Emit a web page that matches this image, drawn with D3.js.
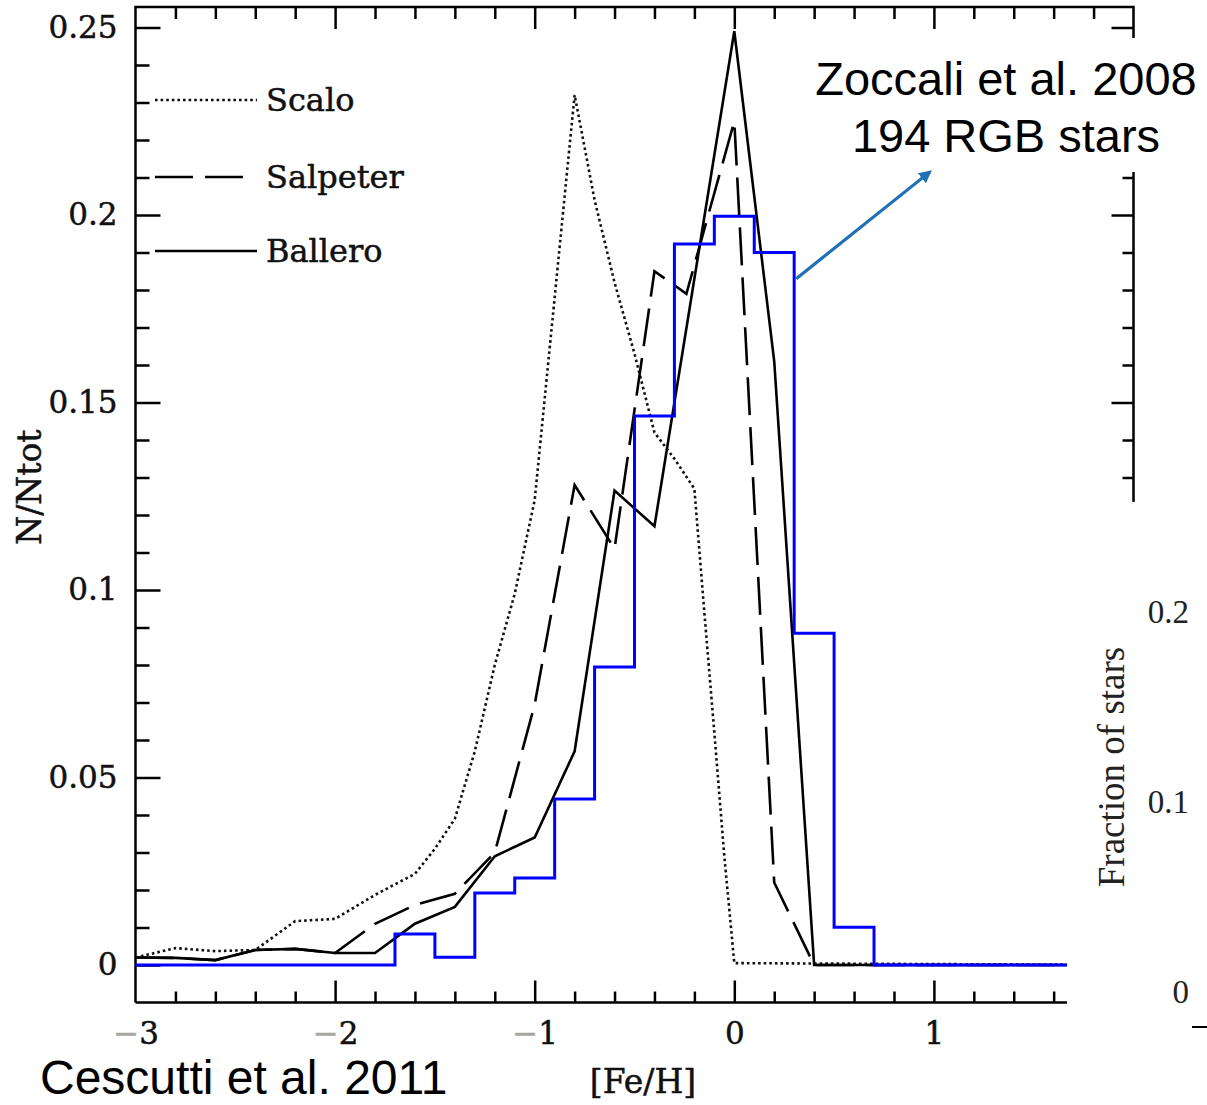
<!DOCTYPE html>
<html><head><meta charset="utf-8">
<script src="https://cdn.jsdelivr.net/npm/d3@7"></script>
<style>html,body{margin:0;padding:0;background:#fff;} svg{display:block;}</style>
</head><body>
<svg id="chart" width="1207" height="1105"></svg>
<script>
// ---------------- data ----------------
const scaloFeH = [-3.0, -2.8, -2.6, -2.4, -2.2, -2.0, -1.8, -1.6, -1.5, -1.4, -1.3, -1.2, -1.1, -1.0, -0.9, -0.8, -0.7, -0.6, -0.5, -0.4, -0.3, -0.2, -0.15, -0.1, -0.05, 0.0, 2.0];
const scaloVal = [0.002, 0.0045, 0.0037, 0.0040, 0.0117, 0.0123, 0.0187, 0.0243, 0.031, 0.039, 0.057, 0.080, 0.099, 0.124, 0.178, 0.232, 0.204, 0.182, 0.163, 0.142, 0.135, 0.127, 0.094, 0.062, 0.029, 0.0005, 0.0];

const salpeterFeH = [-3.0, -2.8, -2.6, -2.4, -2.2, -2.0, -1.8, -1.6, -1.4, -1.2, -1.0, -0.8, -0.6, -0.4, -0.24, 0.0, 0.2, 0.4, 2.0];
const salpeterVal = [0.002, 0.0019, 0.0013, 0.004, 0.0043, 0.0032, 0.011, 0.016, 0.019, 0.030, 0.0695, 0.128, 0.111, 0.185, 0.179, 0.225, 0.022, 0.0, 0.0];

const balleroFeH = [-3.0, -2.8, -2.6, -2.4, -2.2, -2.0, -1.8, -1.6, -1.4, -1.2, -1.0, -0.8, -0.6, -0.4, 0.0, 0.2, 0.4, 2.0];
const balleroVal = [0.002, 0.0019, 0.0013, 0.004, 0.0043, 0.0032, 0.0032, 0.011, 0.0155, 0.029, 0.034, 0.057, 0.1265, 0.117, 0.249, 0.161, 0.0, 0.0];

// Zoccali et al. 2008 histogram (bin edges and heights, plotted on the N/Ntot scale)
const zoccaliEdges = [-3.0, -1.7, -1.5, -1.3, -1.1, -0.9, -0.7, -0.5, -0.3, -0.1, 0.1, 0.3, 0.5, 0.7, 2.0];
const zoccaliHeights = [0, 0.0083, 0.0021, 0.0192, 0.0232, 0.0443, 0.0795, 0.1464, 0.1923, 0.1997, 0.190, 0.0885, 0.0101, 0];

const xTickValues = [-3, -2, -1, 0, 1];
const yTickValues = [0, 0.05, 0.1, 0.15, 0.2, 0.25];
const yTickLabels = ["0", "0.05", "0.1", "0.15", "0.2", "0.25"];
const fracTickValues = [0, 0.1, 0.2];
const fracTickLabels = ["0", "0.1", "0.2"];

const legendNames = ["Scalo", "Salpeter", "Ballero"];
const annotationLines = ["Zoccali et al. 2008", "194 RGB stars"];
const arrowFrom = [0.31, 0.183];
const arrowTo = [0.98, 0.2115];

// ---------------- layout ----------------
const svg = d3.select("#chart");
svg.append("rect").attr("width", 1207).attr("height", 1105).attr("fill", "#fff");

const x = d3.scaleLinear().domain([-3, 2]).range([135.5, 1133.5]);
const y = d3.scaleLinear().domain([0, 0.25]).range([965, 27.5]);
const yTop = 7, yBot = 1002.5;

const serif = "'DejaVu Serif', serif";
const AX = 2.5;
const boldish = sel => sel.attr("stroke", "#111").attr("stroke-width", 0.5);

function styleAxis(g) {
  g.select(".domain").remove();
  g.selectAll(".tick line").attr("stroke", "#000").attr("stroke-width", AX);
}

const xMinor = d3.range(-30, 21, 2).map(d => d / 10).filter(d => !xTickValues.includes(d) && d !== 2);
const yMinor = d3.range(0, 26, 1).map(d => d / 100).filter(d => !yTickValues.some(v => Math.abs(v - d) < 1e-9));

// left axis
svg.append("g").attr("transform", `translate(${x(-3)},0)`)
  .call(d3.axisLeft(y).tickValues(yMinor).tickSize(-14).tickFormat(""))
  .call(styleAxis);
svg.append("g").attr("transform", `translate(${x(-3)},0)`)
  .call(d3.axisLeft(y).tickValues(yTickValues).tickSize(-25).tickPadding(18)
    .tickFormat((d, i) => yTickLabels[i]))
  .call(styleAxis)
  .call(g => g.selectAll("text").attr("font-family", serif).attr("font-size", 31).attr("fill", "#111").call(boldish));

// right axis (mirror)
svg.append("g").attr("transform", `translate(${x(2)},0)`)
  .call(d3.axisRight(y).tickValues(yMinor).tickSize(-11).tickFormat(""))
  .call(styleAxis);
svg.append("g").attr("transform", `translate(${x(2)},0)`)
  .call(d3.axisRight(y).tickValues(yTickValues).tickSize(-22).tickFormat(""))
  .call(styleAxis);

// top axis
svg.append("g").attr("transform", `translate(0,${yTop})`)
  .call(d3.axisTop(x).tickValues(xMinor).tickSize(-12).tickFormat(""))
  .call(styleAxis);
svg.append("g").attr("transform", `translate(0,${yTop})`)
  .call(d3.axisTop(x).tickValues(xTickValues.filter(d => d > -3)).tickSize(-22).tickFormat(""))
  .call(styleAxis);

// bottom axis
svg.append("g").attr("transform", `translate(0,${yBot})`)
  .call(d3.axisBottom(x).tickValues(xMinor).tickSize(-11).tickFormat(""))
  .call(styleAxis);
const bx = svg.append("g").attr("transform", `translate(0,${yBot})`)
  .call(d3.axisBottom(x).tickValues(xTickValues).tickSize(-22).tickPadding(19))
  .call(styleAxis);
bx.selectAll(".tick").filter(d => d === -3).select("line").remove();
bx.selectAll("text").attr("font-family", serif).attr("font-size", 31).attr("fill", "#111")
  .each(function(d) {
    const t = d3.select(this);
    t.text(null);
    if (d < 0) t.append("tspan").attr("fill", "#a8a8a0").attr("stroke", "#a8a8a0").attr("stroke-width", 0.5).text("\u2212");
    t.append("tspan").attr("stroke", "#111").attr("stroke-width", 0.5).text(Math.abs(d));
  });

// frame
const frame = svg.append("g").attr("stroke", "#000").attr("stroke-width", AX).attr("fill", "none");
frame.append("path").attr("d", `M${x(-3)},${yBot}V${yTop}H${x(2)}V${yBot}`);
frame.append("path").attr("d", `M${x(-3)},${yBot}H${x(2)}`);

// axis titles
svg.append("text").attr("transform", `translate(41,487) rotate(-90)`)
  .attr("text-anchor", "middle").attr("font-family", serif).attr("font-size", 33).attr("fill", "#111")
  .call(boldish).text("N/Ntot");
svg.append("text").attr("x", 643).attr("y", 1093)
  .attr("text-anchor", "middle").attr("font-family", serif).attr("font-size", 33).attr("fill", "#111")
  .call(boldish).text("[Fe/H]");

// ---------------- curves ----------------
const line = d3.line().x(d => x(d[0])).y(d => y(d[1]));
const zip = (a, b) => a.map((v, i) => [v, b[i]]);

const series = [
  { name: "Scalo", pts: zip(scaloFeH, scaloVal), dash: "2.6,3", color: "#111", w: 2.6 },
  { name: "Salpeter", pts: zip(salpeterFeH, salpeterVal), dash: "38,12", color: "#000", w: 2.6 },
  { name: "Ballero", pts: zip(balleroFeH, balleroVal), dash: null, color: "#000", w: 2.6 }
];

series.forEach(s => {
  svg.append("path").attr("d", line(s.pts)).attr("fill", "none")
    .attr("stroke", s.color).attr("stroke-width", s.w)
    .attr("stroke-dasharray", s.dash).attr("stroke-linejoin", "miter");
});

// histogram (step)
const histPts = zoccaliEdges.map((e, i) => [e, i < zoccaliHeights.length ? zoccaliHeights[i] : zoccaliHeights[zoccaliHeights.length - 1]]);
svg.append("path")
  .attr("d", d3.line().x(d => x(d[0])).y(d => y(d[1])).curve(d3.curveStepAfter)(histPts))
  .attr("fill", "none").attr("stroke", "#0000ff").attr("stroke-width", 3);

// ---------------- legend ----------------
const legendY = [100, 177, 251];
legendNames.forEach((n, i) => {
  const s = series.find(t => t.name === n);
  svg.append("line").attr("x1", 155).attr("x2", i === 1 ? 247 : 257)
    .attr("y1", legendY[i]).attr("y2", legendY[i])
    .attr("stroke", s.color).attr("stroke-width", s.w).attr("stroke-dasharray", s.dash);
  svg.append("text").attr("x", 266).attr("y", legendY[i] + 11)
    .attr("font-family", serif).attr("font-size", 32).attr("fill", "#111").call(boldish).text(n);
});

// ---------------- annotation ----------------
svg.append("rect").attr("x", 805).attr("y", 38).attr("width", 402).attr("height", 134).attr("fill", "#fff");
svg.append("defs").append("marker").attr("id", "ah").attr("viewBox", "0 0 10 10")
  .attr("refX", 8).attr("refY", 5).attr("markerWidth", 4).attr("markerHeight", 4)
  .attr("orient", "auto").append("path").attr("d", "M0,0L10,5L0,10z").attr("fill", "#1f70b4");
svg.append("line").attr("x1", x(arrowFrom[0])).attr("y1", y(arrowFrom[1]))
  .attr("x2", x(arrowTo[0])).attr("y2", y(arrowTo[1]))
  .attr("stroke", "#1f70b4").attr("stroke-width", 3.2).attr("marker-end", "url(#ah)");
annotationLines.forEach((t, i) => {
  svg.append("text").attr("x", 1006).attr("y", 95 + i * 57).attr("text-anchor", "middle")
    .attr("font-family", "'Liberation Sans', Arial, sans-serif").attr("font-size", 47).attr("fill", "#000").text(t);
});
svg.append("text").attr("x", 40).attr("y", 1094)
  .attr("font-family", "'Liberation Sans', Arial, sans-serif").attr("font-size", 48).attr("fill", "#000")
  .text("Cescutti et al. 2011");

// ---------------- overlay (Zoccali panel axis) ----------------
svg.append("rect").attr("x", x(1.667)).attr("y", y(0.1235)).attr("width", 1207 - x(1.667)).attr("height", 1105 - y(0.1235)).attr("fill", "#fff");
const yFrac = d3.scaleLinear().domain([0, 0.2]).range([992, 612]);
svg.append("g").attr("transform", "translate(1197,0)")
  .call(d3.axisLeft(yFrac).tickValues(fracTickValues).tickSize(0).tickPadding(8).tickFormat((d, i) => fracTickLabels[i]))
  .call(g => g.select(".domain").remove())
  .call(g => g.selectAll("text").attr("font-family", "'Liberation Serif', serif").attr("font-size", 33).attr("fill", "#222"));
svg.append("text").attr("transform", "translate(1124,767) rotate(-90)").attr("text-anchor", "middle")
  .attr("font-family", "'Liberation Serif', serif").attr("font-size", 37).attr("fill", "#222")
  .text("Fraction of stars");
svg.append("line").attr("x1", 1192).attr("x2", 1207).attr("y1", 1027).attr("y2", 1027)
  .attr("stroke", "#000").attr("stroke-width", 2);
</script>
</body></html>
